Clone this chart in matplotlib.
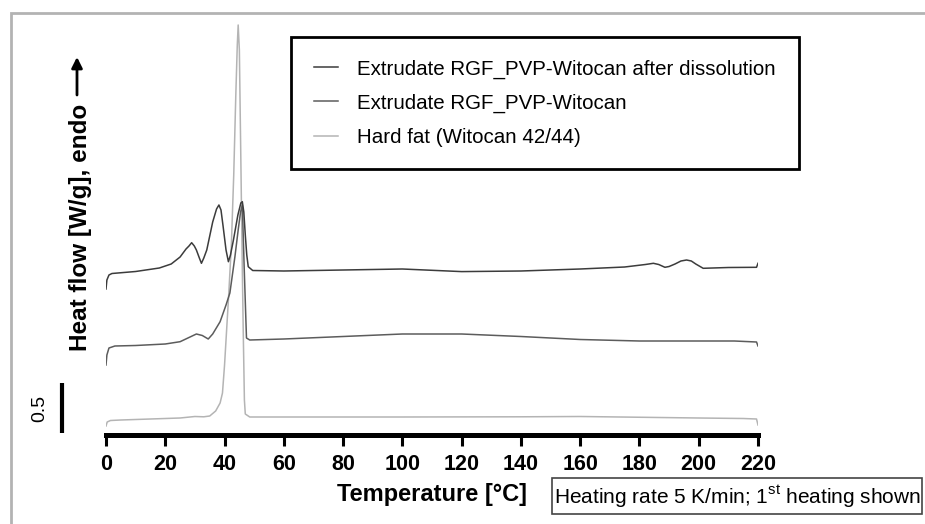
import matplotlib
matplotlib.use("Agg")
import matplotlib.pyplot as plt
from matplotlib.patches import Rectangle

plt.rcParams["font.family"] = ["Liberation Sans", "DejaVu Sans"]
plt.rcParams["mathtext.fontset"] = "custom"
plt.rcParams["mathtext.rm"] = "Liberation Sans"

# ── DSC traces, 1st heating (heat flow in W/g, curves stacked) ────────────────

temp_dissolved = [0, 0.3, 1, 2, 10, 18, 22, 25, 27, 28, 28.9, 29.8, 30.5, 31.5,
                  32.2, 33, 34, 36, 37.3, 38.1, 38.8, 39.5, 40.5, 41.3, 42, 43,
                  44.5, 45.5, 46.0, 46.5, 47, 47.5, 48, 49.5, 60, 80, 100, 120,
                  140, 160, 175, 182, 184.7, 186.5, 188.6, 190, 192, 194, 195.9,
                  197.5, 199, 201.5, 210, 219.5, 220]
hf_dissolved = [1.455, 1.545, 1.595, 1.61, 1.63, 1.665, 1.705, 1.775, 1.855,
                1.885, 1.918, 1.885, 1.845, 1.765, 1.712, 1.765, 1.845, 2.125,
                2.255, 2.295, 2.245, 2.085, 1.845, 1.728, 1.795, 1.945, 2.195,
                2.315, 2.328, 2.225, 1.995, 1.795, 1.678, 1.64, 1.635, 1.645,
                1.655, 1.629, 1.635, 1.655, 1.675, 1.70, 1.712, 1.70, 1.672,
                1.68, 1.705, 1.735, 1.745, 1.735, 1.705, 1.662, 1.67, 1.672,
                1.712]

temp_extrudate = [0, 0.3, 1, 3, 10, 20, 25, 28, 30.5, 32.5, 34.5, 36, 38.5,
                  40.5, 41.8, 43.5, 44.6, 45.4, 46.0, 46.6, 47.4, 48.5, 60, 80,
                  100, 120, 140, 160, 180, 200, 212, 219.5, 220]
hf_extrudate = [0.695, 0.795, 0.865, 0.885, 0.89, 0.905, 0.928, 0.97, 1.005,
                0.99, 0.955, 1.005, 1.128, 1.295, 1.415, 1.778, 2.045, 2.225,
                2.295, 1.695, 0.965, 0.945, 0.955, 0.98, 1.005, 1.005, 0.98,
                0.95, 0.935, 0.935, 0.935, 0.925, 0.885]

temp_hardfat = [0, 0.4, 1.5, 5, 15, 25, 30, 33, 35, 37, 38.5, 39.3, 40.0, 40.6,
                41.4, 42.3, 43.1, 43.8, 44.3, 44.6, 45.0, 45.5, 46.0, 46.3,
                46.7, 47.0, 48.5, 60, 100, 140, 160, 200, 215, 219.5, 220]
hf_hardfat = [0.085, 0.125, 0.14, 0.145, 0.155, 0.165, 0.18, 0.177, 0.185,
              0.235, 0.315, 0.415, 0.695, 0.995, 1.395, 1.895, 2.595, 3.395,
              3.895, 4.095, 3.845, 2.745, 1.645, 1.045, 0.345, 0.205, 0.175,
              0.175, 0.175, 0.177, 0.18, 0.165, 0.16, 0.155, 0.095]

labels = ["Extrudate RGF_PVP-Witocan after dissolution",
          "Extrudate RGF_PVP-Witocan",
          "Hard fat (Witocan 42/44)"]
colors = ["#3c3c3c", "#5c5c5c", "#b4b4b4"]
x_ticks = list(range(0, 221, 20))
scale_bar = 0.5  # W/g

# ── figure ────────────────────────────────────────────────────────────────────

W, H = 925, 524
fig = plt.figure(figsize=(W / 100, H / 100), dpi=100)
ax = fig.add_axes([106 / W, 1 - 434.5 / H, (758 - 106) / W, 415 / H])

h3, = ax.plot(temp_hardfat, hf_hardfat, color=colors[2], lw=1.1)
h2, = ax.plot(temp_extrudate, hf_extrudate, color=colors[1], lw=1.1)
h1, = ax.plot(temp_dissolved, hf_dissolved, color=colors[0], lw=1.1)

ax.set_xlim(0, 220)
ax.set_ylim(0, 4.15)
ax.set_xticks(x_ticks)
ax.set_yticks([])
for s in ("left", "right", "top"):
    ax.spines[s].set_visible(False)
ax.spines["bottom"].set_linewidth(3.6)
ax.tick_params(axis="x", length=8, width=2.2, pad=6, labelsize=15.5,
               direction="out")
for t in ax.get_xticklabels():
    t.set_fontweight("bold")

ax.set_xlabel("Temperature [°C]", fontsize=17, fontweight="bold")
ax.xaxis.set_label_coords(0.5, -0.118)

# scale bar for heat flow
bar_x = -14.9
ax.plot([bar_x, bar_x], [0.015, 0.015 + scale_bar], color="black", lw=3,
        clip_on=False, solid_capstyle="butt")
ax.text(-22.3, 0.015 + scale_bar / 2, f"{scale_bar}", rotation=90,
        ha="center", va="center", fontsize=14)

# y label with endo arrow
fig.text(80 / W, 1 - 227 / H, "Heat flow [W/g], endo", rotation=90,
         ha="center", va="center", fontsize=17.5, fontweight="bold")
ax.annotate("", xy=(77, H - 57), xytext=(77, H - 95),
            xycoords="figure pixels", textcoords="figure pixels",
            arrowprops=dict(arrowstyle="-|>", lw=2, color="black",
                            mutation_scale=16, shrinkA=0, shrinkB=0))

leg = ax.legend([h1, h2, h3], labels, loc="upper left",
                bbox_to_anchor=(291 / W, 1 - 166 / H, (799 - 291) / W, 129 / H),
                bbox_transform=fig.transFigure, mode="expand",
                fancybox=False, edgecolor="black", framealpha=1,
                fontsize=14.8, borderpad=1.1, labelspacing=0.72,
                handlelength=1.2, handletextpad=0.9, borderaxespad=0)
leg.get_frame().set_linewidth(2)

# note box, bottom right
fig.patches.append(Rectangle((552 / W, 1 - 514 / H), 370 / W, 36 / H,
                             transform=fig.transFigure, fill=False,
                             edgecolor="#444444", lw=1.2))
fig.text(737 / W, 1 - 497 / H,
         r"Heating rate 5 K/min; 1$^{\mathrm{st}}$ heating shown",
         ha="center", va="center", fontsize=15)

# light grey frame round the figure
fig.patches.append(Rectangle((11 / W, -0.1), 1.0, 1.1 - 13 / H,
                             transform=fig.transFigure, fill=False,
                             edgecolor="#b3b3b3", lw=2))

fig.savefig("out.png", dpi=100)
